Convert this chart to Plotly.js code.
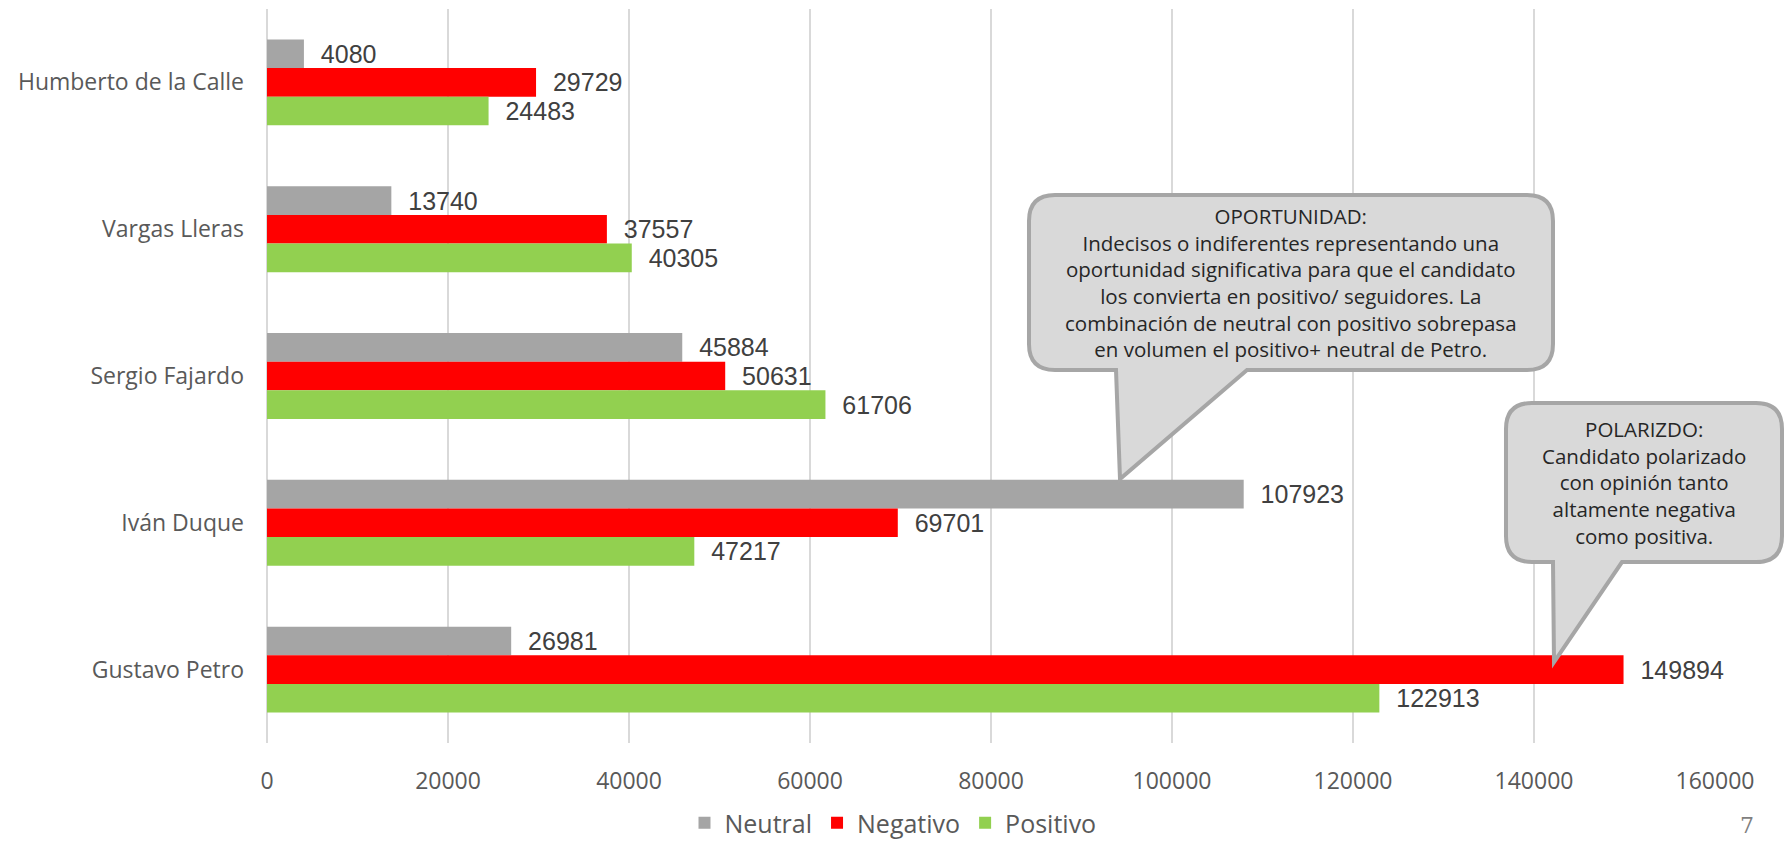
<!DOCTYPE html>
<html>
<head>
<meta charset="utf-8">
<script src="https://cdn.plot.ly/plotly-3.0.1.min.js"></script>
<style>html,body{margin:0;padding:0;background:#fff;}#chart{width:1787px;height:843px;}</style>
</head>
<body>
<div id="chart"></div>
<script>
const candidates = ["Humberto de la Calle", "Vargas Lleras", "Sergio Fajardo", "Iván Duque", "Gustavo Petro"];
const neutral  = [4080, 13740, 45884, 107923, 26981];
const negativo = [29729, 37557, 50631, 69701, 149894];
const positivo = [24483, 40305, 61706, 47217, 122913];
const xTicks = [0, 20000, 40000, 60000, 80000, 100000, 120000, 140000, 160000];

const callout1Text = "OPORTUNIDAD:<br>Indecisos o indiferentes representando una<br>oportunidad significativa para que el candidato<br>los convierta en positivo/ seguidores. La<br>combinación de neutral con positivo sobrepasa<br>en volumen el positivo+ neutral de Petro.";
const callout2Text = "POLARIZDO:<br>Candidato polarizado<br>con opinión tanto<br>altamente negativa<br>como positiva.";

const W = 1787, H = 843;
const L = 267, R = 1715, T = 9, B = 743;
const px = x => (x - L) / (R - L);
const py = y => (B - y) / (B - T);

function callout(x0, y0, x1, y1, r, tl, tr, tipX, tipY) {
  const P = (x, y) => px(x).toFixed(5) + "," + py(y).toFixed(5);
  return "M" + P(x0 + r, y0) +
    " L" + P(x1 - r, y0) +
    " Q" + P(x1, y0) + " " + P(x1, y0 + r) +
    " L" + P(x1, y1 - r) +
    " Q" + P(x1, y1) + " " + P(x1 - r, y1) +
    " L" + P(tr, y1) +
    " L" + P(tipX, tipY) +
    " L" + P(tl, y1) +
    " L" + P(x0 + r, y1) +
    " Q" + P(x0, y1) + " " + P(x0, y1 - r) +
    " L" + P(x0, y0 + r) +
    " Q" + P(x0, y0) + " " + P(x0 + r, y0) + " Z";
}

const labelFont = {family: "Liberation Sans, Arial, sans-serif", size: 25, color: "#404040"};
const pad = "\u00a0\u00a0";

function mk(name, vals, color) {
  return {
    type: "bar", orientation: "h", name: name,
    y: candidates, x: vals,
    marker: {color: color},
    text: vals.map(v => pad + v),
    textposition: "outside",
    textfont: labelFont,
    constraintext: "none",
    cliponaxis: false,
    hoverinfo: "x+y"
  };
}

const data = [
  mk("Neutral", neutral, "#A5A5A5"),
  mk("Negativo", negativo, "#FF0000"),
  mk("Positivo", positivo, "#92D050")
];

const sansFont = "'Open Sans', 'Noto Sans', sans-serif";

const layout = {
  width: W, height: H,
  margin: {l: L, r: W - R, t: T, b: H - B, pad: 0, autoexpand: false},
  paper_bgcolor: "#ffffff", plot_bgcolor: "#ffffff",
  barmode: "group",
  bargap: 0.415,
  bargroupgap: 0,
  showlegend: true,
  legend: {
    orientation: "h",
    xref: "container", yref: "container",
    x: 893 / W, xanchor: "center", y: 1 - 823 / H, yanchor: "middle",
    font: {family: sansFont, size: 25, color: "#595959"},
    itemwidth: 30, traceorder: "normal", itemclick: false
  },
  xaxis: {
    range: [0, 160000], tickvals: xTicks, ticktext: xTicks.map(String),
    showgrid: true, gridcolor: "#D9D9D9", gridwidth: 1.5,
    zeroline: true, zerolinecolor: "#D9D9D9", zerolinewidth: 1.5,
    showline: false, ticks: "",
    tickfont: {family: sansFont, size: 23, color: "#595959"},
    ticklabelstandoff: 22,
    fixedrange: true
  },
  yaxis: {
    type: "category", autorange: "reversed",
    showgrid: false, zeroline: false, showline: false, ticks: "",
    tickfont: {family: sansFont, size: 23, color: "#595959"},
    ticklabelstandoff: 22,
    fixedrange: true
  },
  shapes: [
    {type: "path", xref: "paper", yref: "paper", layer: "above",
     path: callout(1029, 195, 1553, 370, 26, 1116, 1247, 1120, 479),
     fillcolor: "#D9D9D9", line: {color: "#A6A6A6", width: 4}},
    {type: "path", xref: "paper", yref: "paper", layer: "above",
     path: callout(1506, 403, 1782, 562, 26, 1553, 1622, 1554, 662),
     fillcolor: "#D9D9D9", line: {color: "#A6A6A6", width: 4}}
  ],
  annotations: [
    {xref: "paper", yref: "paper", x: px(1291), y: py(282), xanchor: "center", yanchor: "middle",
     text: callout1Text, showarrow: false, align: "center",
     font: {family: sansFont, size: 20.5, color: "#262626"}},
    {xref: "paper", yref: "paper", x: px(1644), y: py(482), xanchor: "center", yanchor: "middle",
     text: callout2Text, showarrow: false, align: "center",
     font: {family: sansFont, size: 20.5, color: "#262626"}},
    {xref: "paper", yref: "paper", x: px(1747), y: py(840), xanchor: "center", yanchor: "bottom",
     text: "7", showarrow: false,
     font: {family: "'DejaVu Serif', serif", size: 22, color: "#7F7F7F"}}
  ]
};

Plotly.newPlot("chart", data, layout, {displayModeBar: false, staticPlot: true});
</script>
</body>
</html>
